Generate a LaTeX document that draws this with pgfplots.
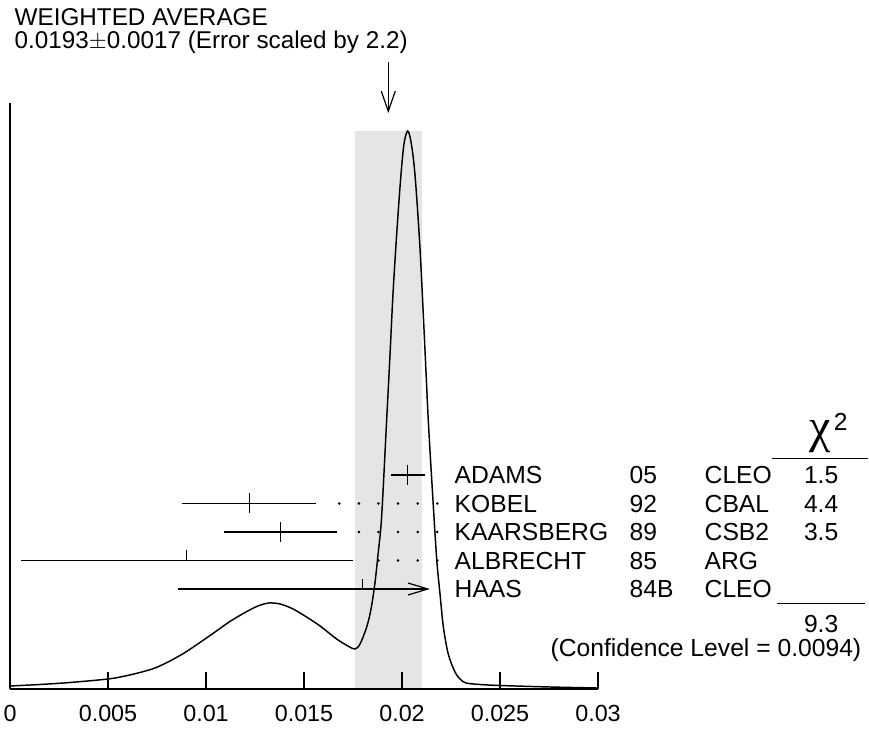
\documentclass[border=0pt]{standalone}
\usepackage{fontspec}
\setmainfont{Liberation Sans}
\newfontfamily\chifont{Liberation Serif}
\usepackage{pgfplots}
\pgfplotsset{compat=1.18}
\usetikzlibrary{arrows.meta}
\definecolor{band}{RGB}{229,229,229}

\newcommand{\lab}{\fontsize{18.5}{22}\selectfont}

\begin{document}
\begin{tikzpicture}
\begin{axis}[
    scale only axis,
    width=441pt, height=439.5pt,
    xmin=0, xmax=0.03,
    ymin=0, ymax=586,
    axis lines*=left,
    axis line style={line width=1.1pt},
    axis on top,
    clip=false,
    xtick={0,0.005,0.01,0.015,0.02,0.025,0.03},
    xticklabels={0,0.005,0.01,0.015,0.02,0.025,0.03},
    ytick=\empty,
    tick align=inside,
    major tick length=12.75pt,
    tick style={line width=1pt, black},
    xticklabel style={font=\fontsize{17.5}{19}\selectfont, yshift=-8.8pt},
    every node/.style={inner sep=0pt},
]

% weighted average band
\addplot[fill=band, draw=none] coordinates {(0.0176,558) (0.0210,558)} \closedcycle;

% ideogram
\addplot[smooth, black, line width=1.1pt] coordinates {
    (0.0,3) (0.00153,4.5) (0.00306,6.5) (0.005,10) (0.00587,13) (0.00663,16.5)
    (0.0074,21) (0.00816,28) (0.00893,36.5) (0.00969,46.5) (0.01046,57) (0.01122,67.5)
    (0.01199,76.5) (0.01265,83) (0.01321,86) (0.01378,85) (0.01439,80.5) (0.01505,73)
    (0.01582,63) (0.01663,50.5) (0.01724,43) (0.0176,40) (0.01786,45)
    (0.0182,62) (0.01842,80) (0.01862,106) (0.01878,135) (0.01896,172) (0.01922,270)
    (0.01939,335) (0.01954,395) (0.01973,455) (0.01993,510) (0.0201,545) (0.02029,558)
    (0.02046,547) (0.02066,515) (0.02092,440) (0.02117,340) (0.02134,269) (0.02153,205)
    (0.02177,130) (0.02194,95) (0.02211,62) (0.02236,35) (0.02268,18) (0.02296,10)
    (0.02327,6) (0.02398,4.5) (0.025,3.5) (0.02755,2) (0.02995,1)
};

% measurements used in the average
\addplot[black, only marks, mark=|, mark size=7.5pt, mark options={line width=0.9pt},
    error bars/.cd, x dir=both, x explicit, error mark=none,
    error bar style={line width=0.9pt}]
    coordinates {
        (0.0203,214) +- (0.00085,0)
        (0.0122,185.5) +- (0.0034,0)
        (0.0138,157) +- (0.0029,0)
    };

% ALBRECHT (not used)
\addplot[black, line width=0.9pt] coordinates {(0.00055,128.5) (0.01748,128.5)};
\addplot[black, line width=0.9pt] coordinates {(0.009,128.5) (0.009,138.5)};

% HAAS
\addplot[black, line width=0.9pt, -{Straight Barb[length=15pt, width=9pt, line width=0.9pt]}]
    coordinates {(0.00859,100) (0.02143,100)};
\addplot[black, line width=0.9pt] coordinates {(0.018,100) (0.018,110)};

% dotted leaders
\addplot[black, only marks, mark=*, mark size=0.75pt] coordinates {
    (0.0168,185.5) (0.0178,185.5) (0.0188,185.5) (0.0198,185.5) (0.0208,185.5) (0.0218,185.5)
    (0.0178,157) (0.0188,157) (0.0198,157) (0.0208,157) (0.0218,157)
    (0.0188,128.5) (0.0198,128.5) (0.0208,128.5) (0.0218,128.5)
};

% arrow to the weighted average
\addplot[black, line width=0.9pt, -{Straight Barb[length=15pt, width=10.5pt, line width=0.9pt]}]
    coordinates {(0.0193,627) (0.0193,576)};

% header
\node[anchor=base west, font=\fontsize{18.2}{21}\selectfont] at (axis cs:0,663.5) {WEIGHTED AVERAGE};
\node[anchor=base west, font=\fontsize{18.2}{21}\selectfont] at (axis cs:0,640.7) {0.0193$\pm$0.0017 (Error scaled by 2.2)};

% table of measurements
\node[anchor=base west, font=\lab] at (axis cs:0.022449,205) {ADAMS};
\node[anchor=base west, font=\lab] at (axis cs:0.022449,176.5) {KOBEL};
\node[anchor=base west, font=\lab] at (axis cs:0.022449,148) {KAARSBERG};
\node[anchor=base west, font=\lab] at (axis cs:0.022449,119.5) {ALBRECHT};
\node[anchor=base west, font=\lab] at (axis cs:0.022449,91) {HAAS};

\node[anchor=base west, font=\lab] at (axis cs:0.031378,205) {05};
\node[anchor=base west, font=\lab] at (axis cs:0.031378,176.5) {92};
\node[anchor=base west, font=\lab] at (axis cs:0.031378,148) {89};
\node[anchor=base west, font=\lab] at (axis cs:0.031378,119.5) {85};
\node[anchor=base west, font=\lab] at (axis cs:0.031378,91) {84B};

\node[anchor=base west, font=\lab] at (axis cs:0.035204,205) {CLEO};
\node[anchor=base west, font=\lab] at (axis cs:0.035204,176.5) {CBAL};
\node[anchor=base west, font=\lab] at (axis cs:0.035204,148) {CSB2};
\node[anchor=base west, font=\lab] at (axis cs:0.035204,119.5) {ARG};
\node[anchor=base west, font=\lab] at (axis cs:0.035204,91) {CLEO};

\node[anchor=base east, font=\lab] at (axis cs:0.0425,205) {1.5};
\node[anchor=base east, font=\lab] at (axis cs:0.0425,176.5) {4.4};
\node[anchor=base east, font=\lab] at (axis cs:0.0425,148) {3.5};

% chi-square column
\node[anchor=base west, font=\chifont\fontsize{36}{40}\selectfont] at (axis cs:0.04056,246) {χ};
\node[anchor=base west, font=\lab] at (axis cs:0.04179,258) {2};
\draw[line width=0.9pt] (axis cs:0.03888,230.7) -- (axis cs:0.043776,230.7);
\draw[line width=0.9pt] (axis cs:0.039128,85.7) -- (axis cs:0.043622,85.7);
\node[anchor=base east, font=\lab] at (axis cs:0.0425,56) {9.3};
\node[anchor=base east, font=\lab] at (axis cs:0.043673,32) {(Confidence Level = 0.0094)};

\coordinate (bbBL) at (axis cs:-0.00051,-41);
\coordinate (bbTR) at (axis cs:0.043827,689);
\end{axis}
\pgfresetboundingbox
\path[use as bounding box] (bbBL) rectangle (bbTR);
\end{tikzpicture}
\end{document}
